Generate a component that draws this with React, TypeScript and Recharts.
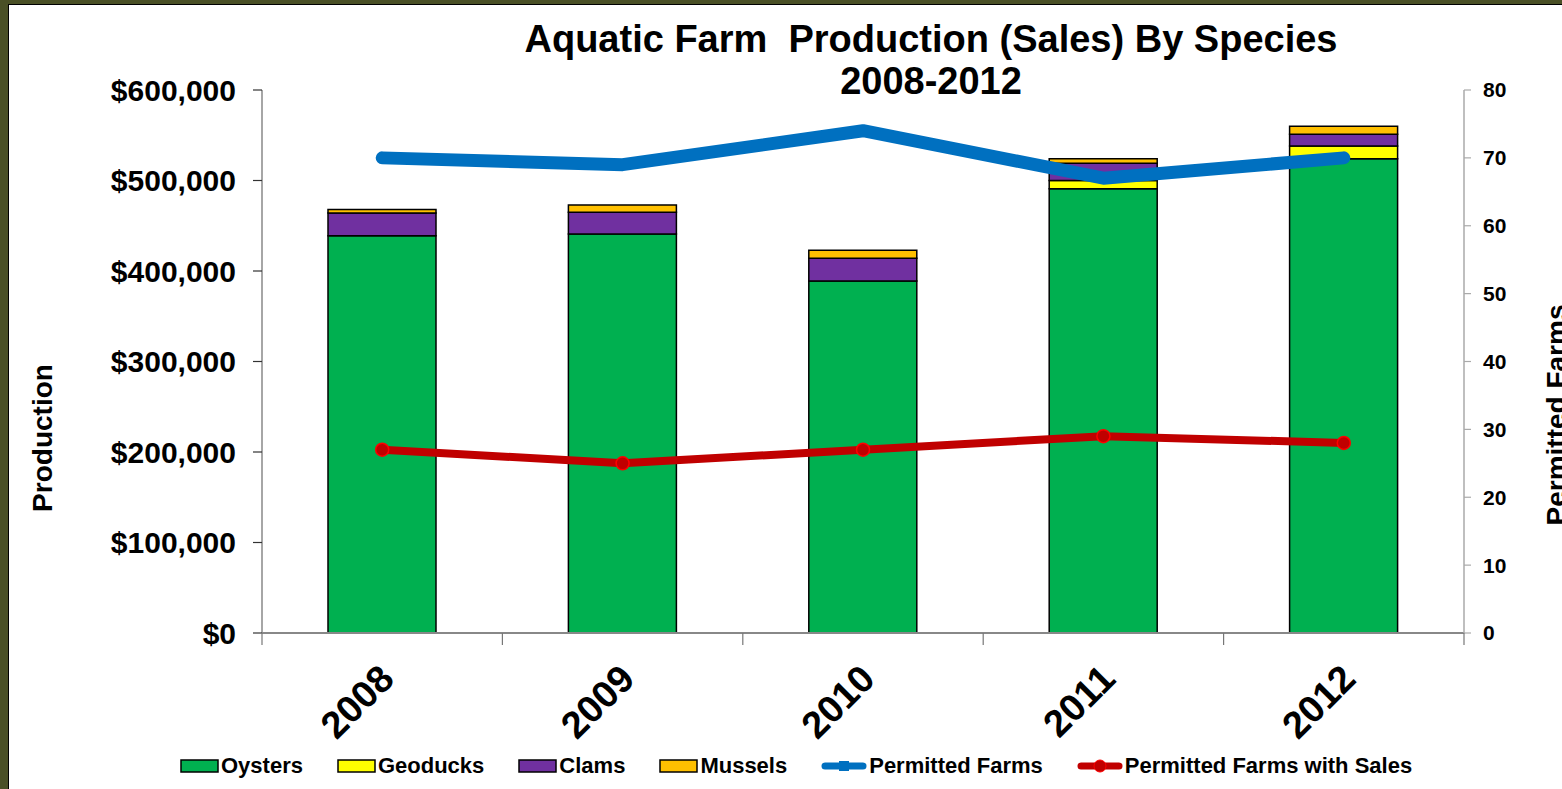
import React from "react";
import {
  ComposedChart,
  Bar,
  Line,
  XAxis,
  YAxis,
} from "recharts";

const years = ["2008", "2009", "2010", "2011", "2012"];
const oysters = [439000, 441000, 389000, 491000, 524000];
const geoducks = [0, 0, 0, 9000, 14000];
const clams = [25000, 24000, 25000, 19000, 13000];
const mussels = [4000, 8000, 9000, 5000, 9000];
const permittedFarms = [70, 69, 74, 67, 70];
const farmsWithSales = [27, 25, 27, 29, 28];

const leftTicks = [0, 100000, 200000, 300000, 400000, 500000, 600000];
const rightTicks = [0, 10, 20, 30, 40, 50, 60, 70, 80];

const chartData = years.map((year, i) => ({
  year,
  oysters: oysters[i],
  geoducks: geoducks[i],
  clams: clams[i],
  mussels: mussels[i],
  permitted: permittedFarms[i],
  withSales: farmsWithSales[i],
}));

const FONT = '"Liberation Sans", Arial, sans-serif';
const OLIVE = "#4a5026";

const colors = {
  oysters: "#00b050",
  geoducks: "#ffff00",
  clams: "#7030a0",
  mussels: "#ffc000",
  permitted: "#0070c0",
  withSales: "#c00000",
};

const money = (v: number) => "$" + v.toLocaleString("en-US");

function YearTick(props: any) {
  const { x, y, payload, index } = props;
  const band = (props.width || 1202) / years.length;
  return (
    <g>
      <line x1={x - band / 2} y1={y} x2={x - band / 2} y2={y + 12} stroke="#777" strokeWidth={1.2} />
      {index === years.length - 1 && (
        <line x1={x + band / 2} y1={y} x2={x + band / 2} y2={y + 12} stroke="#777" strokeWidth={1.2} />
      )}
      <text
        x={x + 14}
        y={y + 48}
        transform={`rotate(-45 ${x + 14} ${y + 48})`}
        textAnchor="end"
        fontFamily={FONT}
        fontWeight="bold"
        fontSize={38}
        fill="#000"
      >
        {payload.value}
      </text>
    </g>
  );
}

function LeftTitle() {
  return (
    <text
      x={42}
      y={438}
      transform="rotate(-90 42 438)"
      textAnchor="middle"
      dominantBaseline="central"
      fontFamily={FONT}
      fontWeight="bold"
      fontSize={28}
      fill="#000"
    >
      Production
    </text>
  );
}

function RightTitle() {
  return (
    <text
      x={1556}
      y={415}
      transform="rotate(-90 1556 415)"
      textAnchor="middle"
      dominantBaseline="central"
      fontFamily={FONT}
      fontWeight="bold"
      fontSize={28}
      fill="#000"
    >
      Permitted Farms
    </text>
  );
}

function RedDot(props: any) {
  const { cx, cy } = props;
  return <circle cx={cx} cy={cy} r={6.5} fill={colors.withSales} stroke="#ff0000" strokeWidth={1.5} />;
}

const legendItems = [
  { name: "Oysters", color: colors.oysters, kind: "box" },
  { name: "Geoducks", color: colors.geoducks, kind: "box" },
  { name: "Clams", color: colors.clams, kind: "box" },
  { name: "Mussels", color: colors.mussels, kind: "box" },
  { name: "Permitted Farms", color: colors.permitted, kind: "square" },
  { name: "Permitted Farms with Sales", color: colors.withSales, kind: "circle" },
];

function LegendIcon({ kind, color }: { kind: string; color: string }) {
  if (kind === "box") {
    return (
      <svg width={39} height={14} style={{ display: "block" }}>
        <rect x={1} y={1} width={37} height={12} fill={color} stroke="#000" strokeWidth={1.5} />
      </svg>
    );
  }
  return (
    <svg width={46} height={16} style={{ display: "block" }}>
      <line x1={4} y1={8} x2={42} y2={8} stroke={color} strokeWidth={7} strokeLinecap="round" />
      {kind === "square" ? (
        <rect x={18} y={3} width={10} height={10} fill={color} />
      ) : (
        <circle cx={23} cy={8} r={6} fill={color} stroke="#ff0000" strokeWidth={1} />
      )}
    </svg>
  );
}

export default function App() {
  return (
    <div
      style={{
        position: "fixed",
        left: 0,
        top: 0,
        width: 1562,
        height: 789,
        background: OLIVE,
        overflow: "hidden",
      }}
    >
      <div
        style={{
          position: "absolute",
          left: 8,
          top: 4,
          width: 1620,
          height: 840,
          background: "#fff",
          border: "1.5px solid #000",
        }}
      />
      <div
        style={{
          position: "absolute",
          left: 431,
          top: 18,
          width: 1000,
          textAlign: "center",
          fontFamily: FONT,
          fontWeight: "bold",
          fontSize: 38,
          lineHeight: "42px",
          color: "#000",
          whiteSpace: "pre",
        }}
      >
        {"Aquatic Farm  Production (Sales) By Species\n2008-2012"}
      </div>
      <div style={{ position: "absolute", left: 0, top: 0 }}>
        <ComposedChart
          width={1562}
          height={789}
          data={chartData}
          margin={{ top: 90, right: 0, bottom: 96, left: 0 }}
        >
          <XAxis
            dataKey="year"
            height={60}
            tickLine={false}
            tickSize={0}
            tickMargin={0}
            interval={0}
            axisLine={{ stroke: "#888", strokeWidth: 2 }}
            tick={<YearTick />}
          />
          <YAxis
            yAxisId="left"
            width={262}
            domain={[0, 600000]}
            ticks={leftTicks}
            tickFormatter={money}
            tickSize={9}
            tickMargin={17}
            axisLine={{ stroke: "#888", strokeWidth: 1.5 }}
            tickLine={{ stroke: "#333", strokeWidth: 1.2 }}
            tick={{ fontFamily: FONT, fontWeight: "bold", fontSize: 30, fill: "#000" }}
            label={<LeftTitle />}
          />
          <YAxis
            yAxisId="right"
            orientation="right"
            width={98}
            domain={[0, 80]}
            ticks={rightTicks}
            tickSize={7}
            tickMargin={12}
            axisLine={{ stroke: "#aaa", strokeWidth: 1.5 }}
            tickLine={{ stroke: "#aaa", strokeWidth: 1.2 }}
            tick={{ fontFamily: FONT, fontWeight: "bold", fontSize: 21, fill: "#000", textAnchor: "start" }}
            label={<RightTitle />}
          />
          <Bar yAxisId="left" dataKey="oysters" stackId="s" barSize={108} fill={colors.oysters} stroke="#000" strokeWidth={1.5} isAnimationActive={false} />
          <Bar yAxisId="left" dataKey="geoducks" stackId="s" barSize={108} fill={colors.geoducks} stroke="#000" strokeWidth={1.5} isAnimationActive={false} />
          <Bar yAxisId="left" dataKey="clams" stackId="s" barSize={108} fill={colors.clams} stroke="#000" strokeWidth={1.5} isAnimationActive={false} />
          <Bar yAxisId="left" dataKey="mussels" stackId="s" barSize={108} fill={colors.mussels} stroke="#000" strokeWidth={1.5} isAnimationActive={false} />
          <Line
            yAxisId="right"
            dataKey="permitted"
            stroke={colors.permitted}
            strokeWidth={13}
            strokeLinecap="round"
            strokeLinejoin="round"
            dot={false}
            activeDot={false}
            isAnimationActive={false}
          />
          <Line
            yAxisId="right"
            dataKey="withSales"
            stroke={colors.withSales}
            strokeWidth={8}
            strokeLinejoin="round"
            dot={<RedDot />}
            activeDot={false}
            isAnimationActive={false}
          />
        </ComposedChart>
      </div>
      <div
        style={{
          position: "absolute",
          left: 180,
          top: 753,
          display: "flex",
          alignItems: "center",
          fontFamily: FONT,
          fontWeight: "bold",
          fontSize: 22,
          color: "#000",
          whiteSpace: "nowrap",
        }}
      >
        {legendItems.map((item, i) => (
          <div
            key={item.name}
            style={{ display: "flex", alignItems: "center", gap: 2, marginLeft: i === 0 ? 0 : 34 }}
          >
            <LegendIcon kind={item.kind} color={item.color} />
            <span>{item.name}</span>
          </div>
        ))}
      </div>
    </div>
  );
}
